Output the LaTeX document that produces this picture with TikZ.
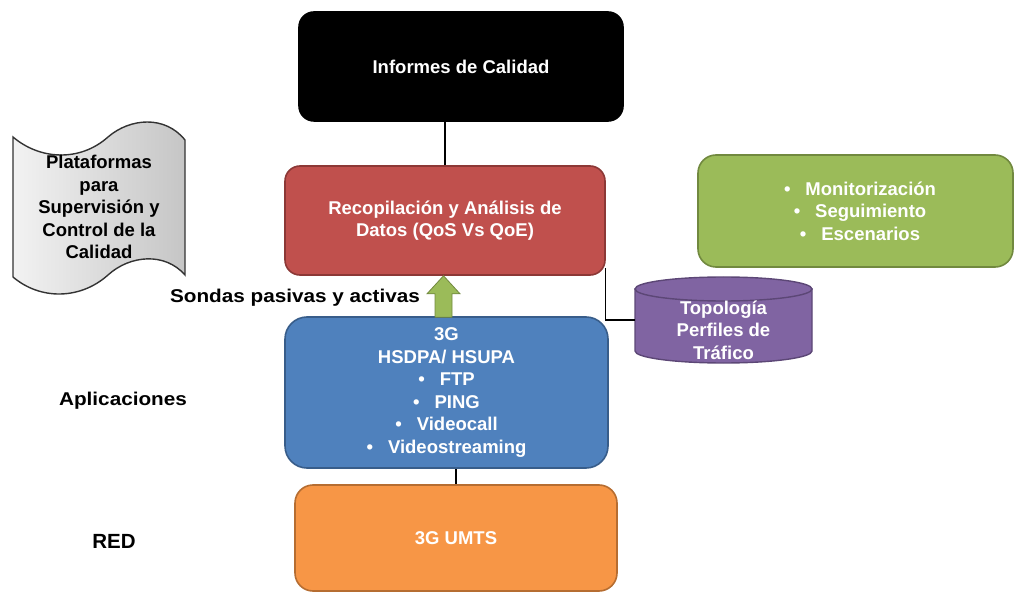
\documentclass[tikz,border=0pt]{standalone}
\usepackage{fontspec}
\setmainfont{Liberation Sans}
\newfontfamily\widefont[FakeStretch=1.12]{Liberation Sans}
\usetikzlibrary{calc}
\definecolor{redf}{HTML}{C0504D}\definecolor{redd}{HTML}{8C3836}
\definecolor{bluef}{HTML}{4F81BD}\definecolor{blued}{HTML}{385D8A}
\definecolor{oraf}{HTML}{F79646}\definecolor{orad}{HTML}{B66D31}
\definecolor{grnf}{HTML}{9BBB59}\definecolor{grnd}{HTML}{71893F}
\definecolor{purf}{HTML}{8064A2}\definecolor{purd}{HTML}{5C4776}
\newcommand{\bul}[1]{\textbullet\hspace{15pt}#1}
\begin{document}
\begin{tikzpicture}[x=1pt,y=-1pt,
  txt/.style={font=\bfseries\fontsize{18.5}{22.5}\selectfont, align=center, inner sep=0pt},
  box/.style={txt, draw, line width=1.6pt, text=white},
  lbl/.style={font=\bfseries\fontsize{18.5}{22.5}\selectfont, anchor=base, inner sep=0pt},
  conn/.style={line width=1.2pt, black},
  shp/.style={line width=1.4pt}]
\useasboundingbox (0,0) rectangle (1014,593);

% boxes
\node[box, fill=black, draw=black, rounded corners=15pt, minimum width=324pt, minimum height=109pt] (inf) at (461,66.5) {Informes de Calidad};
\node[box, fill=redf, draw=redd, rounded corners=15pt, minimum width=320pt, minimum height=109pt] (rec) at (445,220.5) {Recopilación y Análisis de\\Datos (QoS Vs QoE)};
\node[box, fill=bluef, draw=blued, rounded corners=22pt, minimum width=323pt, minimum height=151pt] (app) at (446.5,392.5) {3G\\HSDPA/ HSUPA\\\bul{FTP}\\\bul{PING}\\\bul{Videocall}\\\bul{Videostreaming}};
\node[box, fill=oraf, draw=orad, rounded corners=18pt, minimum width=322pt, minimum height=106pt] (ora) at (456,538) {3G UMTS};
\node[box, fill=grnf, draw=grnd, rounded corners=18pt, minimum width=315pt, minimum height=112pt] (grn) at (855.5,211) {\hspace*{9pt}\bul{Monitorización}\\\hspace*{9pt}\bul{Seguimiento}\\\hspace*{9pt}\bul{Escenarios}};

% cylinder
\node[minimum width=177pt, minimum height=86pt, inner sep=0pt] (topo) at (723.5,320) {};
\draw[shp, fill=purf, draw=purd] (635,289) -- (635,351) arc[start angle=180, end angle=0, x radius=88.5, y radius=12] -- (812,289) -- cycle;
\draw[shp, fill=purf, draw=purd] (723.5,289) ellipse [x radius=88.5, y radius=12];
\node[txt, text=white] (topot) at ([yshift=-10pt]topo.center) {Topología\\Perfiles de\\Tráfico};

% scroll (punched tape)
\node[minimum width=172pt, minimum height=140pt, inner sep=0pt] (plat) at (99,207) {};
\shade[left color=gray!10, right color=gray!45, draw=black!80, shp]
  (13,137) .. controls (40,160) and (80,162) .. (108,137)
  .. controls (130,118) and (165,115) .. (185,140)
  -- (185,275)
  .. controls (165,252) and (130,255) .. (108,275)
  .. controls (80,300) and (40,300) .. (13,277) -- cycle;
\node[txt, text=black] (platt) at (plat.center) {Plataformas\\para\\Supervisión y\\Control de la\\Calidad};

% connectors
\draw[conn] (rec.north) -- (rec.north |- inf.south);
\draw[conn] (ora.north) -- (ora.north |- app.south);
\draw[conn] ([yshift=8pt]rec.south east) |- (topo.west);

% green arrow
\coordinate (atip) at ($(rec.south)+(-1.5,0)$);
\coordinate (abase) at ($(app.north)+(-3,1)$);
\draw[fill=grnf, draw=grnd, line width=0.8pt]
  ($(abase)+(-8.5,0)$) -- ($(atip)+(-8.5,18)$) -- ($(atip)+(-16.5,18)$) -- (atip)
  -- ($(atip)+(16.5,18)$) -- ($(atip)+(8.5,18)$) -- ($(abase)+(8.5,0)$) -- cycle;

% labels
\node[lbl, font=\bfseries\widefont\fontsize{18.5}{22.5}\selectfont] (sondas) at (295,303) {Sondas pasivas y activas};
\node[lbl, font=\bfseries\widefont\fontsize{18.5}{22.5}\selectfont] (aplic) at (123,405) {Aplicaciones};
\node[lbl, font=\bfseries\fontsize{20.5}{24}\selectfont] (red) at (114,548) {RED};
\end{tikzpicture}
\end{document}
